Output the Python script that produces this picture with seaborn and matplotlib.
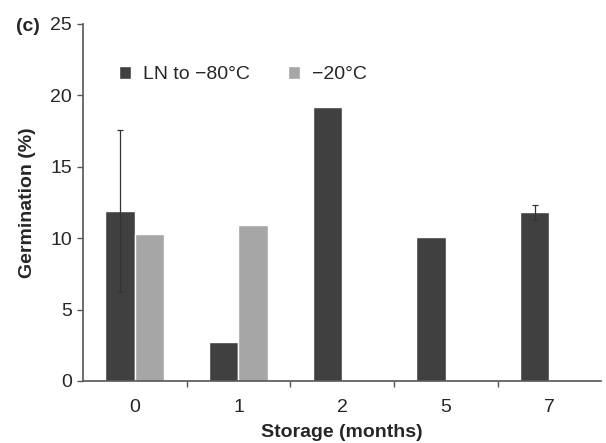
import numpy as np
import pandas as pd
import matplotlib
matplotlib.use("Agg")
import matplotlib.pyplot as plt
import seaborn as sns

months = ["0", "1", "2", "5", "7"]
ln_vals = [11.9, 2.7, 19.2, 10.1, 11.8]
ln_err = [5.65, 0, 0, 0, 0.55]
m20_vals = [10.3, 10.9, np.nan, np.nan, np.nan]
series = ["LN to \u221280\u00b0C", "\u221220\u00b0C"]
colors = ["#404040", "#a6a6a6"]

df = pd.DataFrame({
    "month": months * 2,
    "val": ln_vals + m20_vals,
    "series": [series[0]] * 5 + [series[1]] * 5,
})

sns.set_style("white")
plt.rcParams["font.family"] = ["Liberation Sans", "DejaVu Sans"]

fig = plt.figure(figsize=(6.06, 4.43), dpi=100)
ax = fig.add_axes([0.137, 0.14, 0.855, 0.806])

sns.barplot(data=df, x="month", y="val", hue="series", hue_order=series,
            order=months, palette=colors, width=0.57, ax=ax, saturation=1,
            errorbar=None)

dark_patches = [p for p in ax.patches if abs(p.get_facecolor()[0] - 0x40/255) < 0.02 and p.get_height() > 0][:5]
xs = [p.get_x() + p.get_width() / 2 for p in dark_patches]
for x, v, e in zip(xs, ln_vals, ln_err):
    if e > 0:
        ax.errorbar(x, v, yerr=e, fmt="none", ecolor="#333333", elinewidth=0.9, capsize=2.5, capthick=0.9)

ax.set_ylim(0, 25)
ax.set_xlim(-0.5, 4.5)
ax.set_yticks([0, 5, 10, 15, 20, 25])
ax.set_xticks(range(5))
ax.set_xticklabels(months)
ax.set_xticks([0.5, 1.5, 2.5, 3.5], minor=True)
ax.tick_params(axis="x", which="major", length=0, labelsize=14, pad=13)
ax.tick_params(axis="x", which="minor", length=4, width=1, color="#555555", direction="out", bottom=True)
ax.tick_params(axis="y", length=4, width=1, color="#555555", direction="out", labelsize=14, left=True, pad=4)

for s in ["top", "right"]:
    ax.spines[s].set_visible(False)
for s in ["left", "bottom"]:
    ax.spines[s].set_color("#555555")
    ax.spines[s].set_linewidth(1.2)

ax.set_xlabel("Storage (months)", fontsize=14, fontweight="bold", labelpad=6)
ax.set_ylabel("Germination (%)", fontsize=14, fontweight="bold", labelpad=10)

leg = ax.legend(loc="center left", bbox_to_anchor=(0.07, 0.857), ncol=2, frameon=False,
                fontsize=14, handlelength=0.6, handleheight=0.6, handletextpad=0.6,
                columnspacing=2.0, borderpad=0, borderaxespad=0)
fig.text(0.027, 0.93, "(c)", fontsize=14, fontweight="bold")

fig.savefig("out.png", dpi=100)
